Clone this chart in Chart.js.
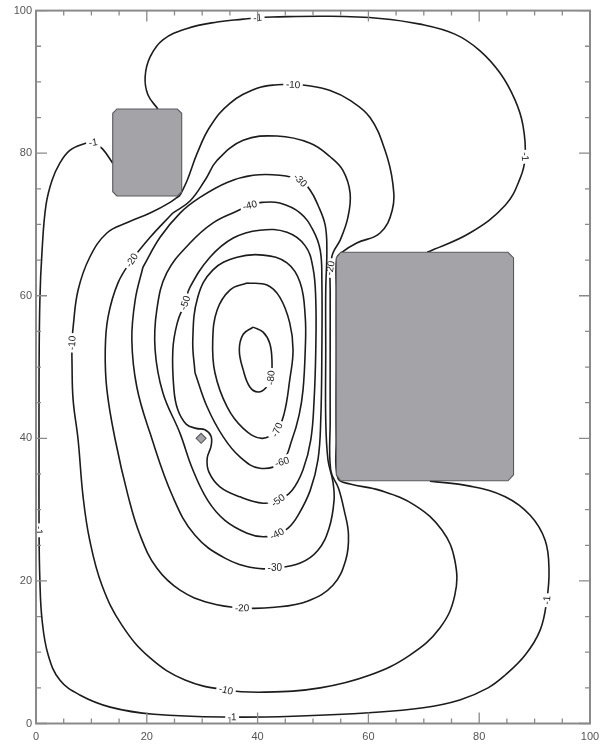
<!DOCTYPE html>
<html><head><meta charset="utf-8">
<script src="https://cdn.jsdelivr.net/npm/chart.js@4.4.0/dist/chart.umd.min.js"></script>
<style>html,body{margin:0;padding:0;background:#fff;}canvas{display:block;}</style>
</head><body>
<canvas id="c" width="600" height="745"></canvas>
<script>
// ---- data (x, y in plot units) ----
const axisTicks = [0, 20, 40, 60, 80, 100];
const c1a = [[22.0,86.2],[20.2,88.2],[19.7,90.7],[20.6,93.5],[22.9,95.9],[27.3,97.5],[32.7,98.4],[37.4,98.8],[40.0,99.0],[42.6,99.1],[53.1,99.2],[62.1,98.9],[69.3,98.1],[75.6,96.7],[80.1,94.4],[83.8,91.2],[86.5,87.4],[87.9,83.9],[88.3,79.5],[87.4,76.5],[84.7,72.7],[78.3,68.8],[70.6,66.1]];
const c1b = [[71.1,34.0],[78.3,33.3],[84.7,31.8],[89.2,29.2],[91.9,25.7],[92.6,21.5],[92.2,17.3],[91.0,13.1],[88.3,9.6],[84.7,6.8],[81.6,5.0],[76.5,3.3],[69.9,2.2],[60.1,1.5],[47.7,1.05],[35.4,0.9],[21.3,1.3],[13.4,2.3],[7.9,4.0],[4.3,6.1],[2.2,9.6],[1.1,14.5],[0.7,20.1],[0.55,27.1],[0.55,38.4],[0.55,48.2],[0.7,59.4],[1.1,66.4],[1.8,72.7],[2.9,76.2],[4.3,78.6],[6.1,80.4],[8.6,81.3],[10.3,81.5],[12.0,80.6],[13.85,78.6]];
const c10 = [[26.0,74.1],[24.2,73.1],[20.6,71.6],[16.6,70.3],[12.8,68.8],[9.7,65.4],[7.6,60.8],[6.7,55.6],[6.5,53.4],[6.5,50.6],[6.7,45.4],[7.6,39.8],[8.5,31.8],[9.7,25.7],[11.9,19.4],[15.5,13.8],[20.6,9.2],[26.9,6.1],[34.3,4.7],[41.3,4.4],[51.3,5.0],[60.3,6.8],[67.5,9.6],[72.9,13.4],[75.6,18.0],[75.6,22.9],[73.3,27.1],[68.4,30.6],[62.1,32.7],[56.7,33.6],[54.5,34.4],[54.2,39.8],[54.2,52.4],[54.2,60.8],[54.3,65.3],[55.2,66.1],[57.9,67.4],[62.1,68.8],[64.3,72.0],[64.4,75.8],[63.0,80.4],[60.3,85.0],[56.7,87.4],[53.1,88.8],[48.9,89.5],[46.4,89.6],[43.5,89.6],[39.9,89.1],[35.0,87.0],[31.4,83.7],[29.1,80.0],[27.3,76.2],[26.0,74.1]];
const c20 = [[24.7,71.6],[27.8,73.3],[30.5,76.2],[32.7,79.0],[37.4,81.8],[43.5,82.4],[49.5,81.4],[53.1,79.5],[55.4,77.6],[56.7,74.4],[56.3,71.0],[54.9,67.8],[53.6,66.0],[53.1,63.9],[53.1,60.8],[53.1,52.4],[53.1,42.6],[53.2,35.5],[54.6,33.0],[55.6,30.0],[56.4,26.5],[55.9,22.9],[53.6,19.4],[49.1,17.2],[43.1,16.3],[37.2,16.2],[31.4,16.9],[26.0,18.7],[21.8,21.8],[18.8,26.4],[16.6,32.0],[14.3,39.8],[12.8,46.8],[12.5,52.4],[13.0,57.0],[14.8,61.8],[17.3,65.0],[20.6,68.2],[24.7,71.6]];
const c30 = [[19.3,64.0],[17.9,59.4],[17.3,53.8],[18.2,47.2],[20.6,40.7],[24.7,31.8],[28.7,26.4],[34.1,23.2],[39.5,21.8],[43.1,21.8],[47.7,22.5],[50.9,24.3],[52.9,27.4],[53.8,31.3],[53.6,33.9],[52.7,37.0],[52.3,42.6],[52.3,52.4],[52.3,60.8],[52.5,66.4],[52.2,69.9],[50.9,72.7],[49.5,74.8],[47.7,76.2],[44.0,76.9],[39.2,76.9],[34.5,75.9],[29.6,73.8],[26.0,71.6],[22.4,68.2],[19.3,64.0]];
const c40 = [[38.6,72.7],[40.8,73.1],[44.0,73.0],[47.7,71.6],[50.0,69.2],[51.3,66.4],[51.6,62.2],[51.6,52.4],[51.4,42.6],[50.9,37.0],[49.5,32.7],[47.3,29.2],[45.5,27.4],[43.5,26.6],[41.0,26.2],[38.1,26.7],[34.1,28.5],[31.0,31.3],[28.2,35.8],[26.0,40.7],[22.9,46.4],[21.5,52.4],[21.8,58.0],[23.6,63.2],[27.8,67.4],[31.9,70.2],[36.3,71.9],[38.6,72.7]];
const c50 = [[26.9,59.0],[27.8,61.2],[31.4,65.4],[35.6,68.1],[40.4,69.2],[45.3,68.9],[48.6,67.0],[50.0,63.9],[50.5,59.4],[50.5,52.4],[50.2,45.4],[49.6,39.8],[48.2,35.6],[46.2,32.7],[43.7,31.3],[41.0,30.9],[36.8,31.8],[33.2,33.2],[31.2,35.3],[30.9,37.2],[31.6,38.9],[31.6,40.3],[30.5,41.2],[28.9,41.4],[27.1,42.0],[25.6,44.0],[24.9,46.8],[24.7,52.4],[25.5,56.2],[26.9,59.0]];
const c60 = [[28.7,49.2],[30.9,44.4],[33.8,40.2],[36.8,37.4],[40.4,35.8],[44.4,36.7],[46.2,39.8],[47.5,43.3],[48.2,46.8],[48.6,52.4],[48.6,57.0],[47.7,61.8],[45.3,64.6],[41.0,65.7],[36.3,65.4],[31.9,63.6],[29.2,59.8],[28.3,53.8],[28.7,49.2]];
const c70 = [[38.1,61.8],[41.7,61.5],[44.0,59.8],[45.8,56.2],[46.4,52.4],[45.8,48.2],[44.8,43.5],[43.5,41.2],[40.8,40.0],[37.4,41.4],[34.5,44.4],[32.3,49.2],[31.9,53.8],[32.7,58.0],[35.0,60.8],[38.1,61.8]];
const c80 = [[39.2,55.6],[41.0,54.9],[42.2,53.3],[42.6,50.7],[42.4,48.5],[41.5,47.1],[40.1,46.5],[38.6,47.2],[37.4,49.6],[36.7,52.4],[37.4,54.6],[39.2,55.6]];
// contour labels: [x, y, text]
const lab1a = [[40.0,99.0,'-1'],[88.3,79.5,'-1']];
const lab1b = [[92.2,17.3,'-1'],[35.4,0.9,'-1'],[0.55,27.1,'-1'],[10.3,81.5,'-1']];
const lab10 = [[6.5,53.4,'-10'],[34.3,4.7,'-10'],[46.4,89.6,'-10']];
const lab20 = [[53.1,63.9,'-20'],[37.2,16.2,'-20'],[17.3,65.0,'-20']];
const lab30 = [[43.1,21.8,'-30'],[47.7,76.2,'-30']];
const lab40 = [[38.6,72.7,'-40'],[43.5,26.6,'-40']];
const lab50 = [[26.9,59.0,'-50'],[43.7,31.3,'-50']];
const lab60 = [[44.4,36.7,'-60']];
const lab70 = [[43.5,41.2,'-70']];
const lab80 = [[42.4,48.5,'-80']];
// obstacles (polygons)
const obstacle1 = [[14.6,74.0],[25.5,74.0],[26.3,74.6],[26.3,85.6],[25.5,86.2],[14.6,86.2],[13.85,85.6],[13.85,74.6]];
const obstacle2 = [[55.0,34.05],[85.2,34.05],[86.2,34.9],[86.2,65.3],[85.2,66.1],[55.0,66.1],[54.2,65.3],[54.2,34.9]];
const obstacle3 = [[29.8,39.3],[30.7,40.0],[29.8,40.7],[28.9,40.0]];

const LABEL_FONT = '10px "Liberation Sans", Arial, sans-serif';
function mk(pts, labels){
  return {data: pts.map(p=>({x:p[0],y:p[1]})), labels: labels, showLine:true, pointRadius:0,
    borderColor:'#1c1c1c', borderWidth:1.6, tension:0.4, fill:false};
}
const datasets = [mk(c1a,lab1a),mk(c1b,lab1b),mk(c10,lab10),mk(c20,lab20),mk(c30,lab30),mk(c40,lab40),mk(c50,lab50),mk(c60,lab60),mk(c70,lab70),mk(c80,lab80)];

function labelGeom(chart, ds, lab){
  const xs=chart.scales.x, ys=chart.scales.y;
  const lx=xs.getPixelForValue(lab[0]), ly=ys.getPixelForValue(lab[1]);
  const pts=ds.data.map(p=>[xs.getPixelForValue(p.x), ys.getPixelForValue(p.y)]);
  let best=1e9, ang=0;
  for(let i=0;i<pts.length-1;i++){
    const a=pts[i], b=pts[i+1];
    const dx=b[0]-a[0], dy=b[1]-a[1]; const L=dx*dx+dy*dy||1;
    let t=((lx-a[0])*dx+(ly-a[1])*dy)/L; t=Math.max(0,Math.min(1,t));
    const qx=a[0]+t*dx-lx, qy=a[1]+t*dy-ly; const d=qx*qx+qy*qy;
    if(d<best){best=d; ang=Math.atan2(dy,dx);}
  }
  if(ang>Math.PI/2) ang-=Math.PI; if(ang<=-Math.PI/2) ang+=Math.PI;
  return {x:lx,y:ly,a:ang};
}
const contourPlugin = {
  id:'contourLabels',
  beforeDatasetDraw(chart,args){
    const ds=chart.data.datasets[args.index]; if(!ds.labels) return;
    const ctx=chart.ctx; ctx.save(); ctx.font=LABEL_FONT;
    ctx.beginPath(); ctx.rect(0,0,chart.width,chart.height);
    ds.labels.forEach(l=>{
      const g=labelGeom(chart,ds,l); const w=ctx.measureText(l[2]).width/2+2.5, h=6;
      const c=Math.cos(g.a), s=Math.sin(g.a);
      const corners=[[-w,-h],[w,-h],[w,h],[-w,h]].map(q=>[g.x+q[0]*c-q[1]*s, g.y+q[0]*s+q[1]*c]);
      ctx.moveTo(corners[0][0],corners[0][1]); for(let k=1;k<4;k++) ctx.lineTo(corners[k][0],corners[k][1]); ctx.closePath();
    });
    ctx.clip('evenodd');
  },
  afterDatasetDraw(chart,args){
    const ds=chart.data.datasets[args.index]; if(!ds.labels) return; chart.ctx.restore();
  },
  afterDatasetsDraw(chart){
    const ctx=chart.ctx, xs=chart.scales.x, ys=chart.scales.y;
    [obstacle1,obstacle2,obstacle3].forEach(poly=>{
      ctx.save(); ctx.beginPath();
      poly.forEach((p,i)=>{const X=xs.getPixelForValue(p[0]), Y=ys.getPixelForValue(p[1]); i?ctx.lineTo(X,Y):ctx.moveTo(X,Y);});
      ctx.closePath(); ctx.fillStyle='#a4a3a8'; ctx.fill(); ctx.strokeStyle='#5a5a5e'; ctx.lineWidth=1.1; ctx.stroke(); ctx.restore();
    });
    ctx.save(); ctx.font=LABEL_FONT; ctx.fillStyle='#222'; ctx.textAlign='center'; ctx.textBaseline='middle';
    chart.data.datasets.forEach(ds=>{ (ds.labels||[]).forEach(l=>{
      const g=labelGeom(chart,ds,l); ctx.save(); ctx.translate(g.x,g.y); ctx.rotate(g.a); ctx.fillText(l[2],0,0.5); ctx.restore();
    });});
    ctx.restore();
  },
  afterDraw(chart){
    const ctx=chart.ctx, a=chart.chartArea, xs=chart.scales.x, ys=chart.scales.y;
    ctx.save(); ctx.strokeStyle='#8a8a8a'; ctx.lineWidth=2;
    ctx.strokeRect(a.left,a.top,a.right-a.left,a.bottom-a.top);
    ctx.lineWidth=1.3;
    for(let v=0;v<=100;v+=5){
      const L = (v%20===0)?11:5;
      const X=xs.getPixelForValue(v), Y=ys.getPixelForValue(v);
      ctx.beginPath();
      ctx.moveTo(X,a.bottom); ctx.lineTo(X,a.bottom-L);
      ctx.moveTo(X,a.top); ctx.lineTo(X,a.top+L);
      ctx.moveTo(a.left,Y); ctx.lineTo(a.left+L,Y);
      ctx.moveTo(a.right,Y); ctx.lineTo(a.right-L,Y);
      ctx.stroke();
    }
    ctx.restore();
  }
};

new Chart(document.getElementById('c'), {
  type:'scatter',
  data:{datasets},
  options:{
    responsive:false, animation:false, devicePixelRatio:1,
    layout:{padding:{top:10.5,right:0,left:0,bottom:0}},
    plugins:{legend:{display:false}, tooltip:{enabled:false}},
    scales:{
      x:{type:'linear',min:0,max:100,
        afterBuildTicks(s){s.ticks=axisTicks.map(v=>({value:v}));},
        afterFit(s){s.height=21.5; s.paddingRight=10;},
        grid:{display:false,drawTicks:false}, border:{display:false},
        ticks:{padding:7,color:'#555',font:{family:'"Liberation Sans", Arial, sans-serif',size:11}}},
      y:{type:'linear',min:0,max:100,
        afterBuildTicks(s){s.ticks=axisTicks.map(v=>({value:v}));},
        afterFit(s){s.width=36;},
        grid:{display:false,drawTicks:false}, border:{display:false},
        ticks:{padding:4,color:'#555',font:{family:'"Liberation Sans", Arial, sans-serif',size:11}}}
    }
  },
  plugins:[contourPlugin]
});
</script>
</body></html>
